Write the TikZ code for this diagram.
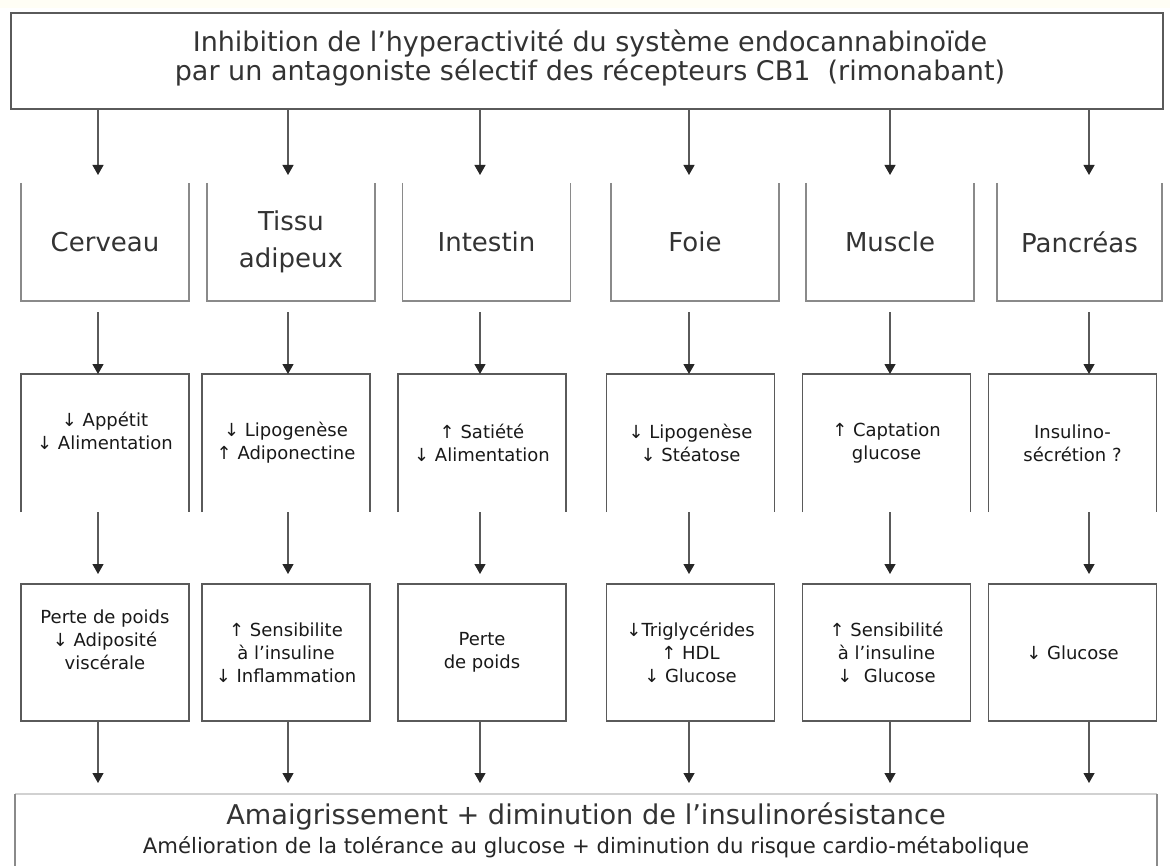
\documentclass[tikz,border=0pt]{standalone}
\usepackage{fontspec}
\setmainfont{DejaVu Sans}
\usetikzlibrary{arrows.meta,calc}
\definecolor{linegray}{HTML}{5A5A5A}
\definecolor{lightgray}{HTML}{8A8A8A}
\definecolor{textgray}{HTML}{333333}
\definecolor{tipcol}{HTML}{262626}
\tikzset{
  box/.style={rectangle, draw=none, inner sep=0pt, outer sep=0pt, align=center},
  topline/.style={draw=linegray, line width=0.8pt},
  orgline/.style={draw=lightgray, line width=0.7pt},
  effline/.style={draw=linegray, line width=0.8pt},
  resline/.style={draw=linegray, line width=0.8pt},
  botline/.style={draw=lightgray, line width=0.7pt},
  arr/.style={draw=linegray, line width=0.6pt, -{Triangle[width=5.5pt,length=5pt,color=tipcol]}},
  toptext/.style={font=\fontsize{13.5}{14.5}\selectfont, text=textgray},
  orgtext/.style={font=\fontsize{13}{18.5}\selectfont, text=textgray},
  smalltext/.style={font=\fontsize{9}{11.5}\selectfont, text=black!90},
  orgbox/.style={box, orgtext, minimum width=84pt, minimum height=59pt},
  effbox/.style={box, smalltext, minimum width=84pt, minimum height=69pt},
  resbox/.style={box, smalltext, minimum width=84pt, minimum height=68.5pt},
}
\begin{document}
\begin{tikzpicture}[x=0.5pt,y=-0.5pt]
\path[use as bounding box, fill=white] (0,0) rectangle (1170,866);
\fill[yellow!4] (0,0) rectangle (1170,8);

% column coordinates
\coordinate (c1) at (98,0);
\coordinate (c2) at (288,0);
\coordinate (c3) at (480,0);
\coordinate (c4) at (689,0);
\coordinate (c5) at (890,0);
\coordinate (c6) at (1089,0);

% top box
\node[box, minimum width=576pt, minimum height=48pt] (top) at (587,61) {};
\draw[topline] (top.north west) rectangle (top.south east);
\node[box, toptext] (toptx) at (590,58) {Inhibition de l’hyperactivité du système endocannabinoïde\\par un antagoniste sélectif des récepteurs CB1\ \ (rimonabant)};

% organ boxes
\node[orgbox] (o1) at (105,242) {Cerveau};
\node[orgbox] (o2) at (291,242) {Tissu\\adipeux};
\node[orgbox] (o3) at (486.5,242) {Intestin};
\node[orgbox] (o4) at (695,242) {Foie};
\node[orgbox] (o5) at (890,242) {Muscle};
\node[orgbox, minimum width=82.5pt] (o6) at (1079.5,242) {Pancréas};
\foreach \n in {o1,o2,o3,o4,o5,o6}
  \draw[orgline] (\n.north west) -- (\n.south west) -- (\n.south east) -- (\n.north east);

% effect boxes
\node[effbox] (e1) at (105,443) {};
\node[box, smalltext] (e1t) at (105,431) {↓ Appétit\\↓ Alimentation};
\node[effbox] (e2) at (286,443) {↓ Lipogenèse\\↑ Adiponectine};
\node[effbox] (e3) at (482,443) {↑ Satiété\\↓ Alimentation};
\node[effbox] (e4) at (690.5,443) {↓ Lipogenèse\\↓ Stéatose};
\node[effbox] (e5) at (886.5,443) {↑ Captation\\glucose};
\node[effbox] (e6) at (1072.5,443) {Insulino-\\sécrétion ?};
\foreach \n in {e1,e2,e3,e4,e5,e6}
  \draw[effline] (\n.south west) -- (\n.north west) -- (\n.north east) -- (\n.south east);

% result boxes
\node[resbox] (r1) at (105,652.5) {};
\node[box, smalltext] (r1t) at (105,640) {Perte de poids\\↓ Adiposité\\viscérale};
\node[resbox] (r2) at (286,652.5) {↑ Sensibilite\\à l’insuline\\↓ Inflammation};
\node[resbox] (r3) at (482,652.5) {Perte\\de poids};
\node[resbox] (r4) at (690.5,652.5) {↓Triglycérides\\↑ HDL\\↓ Glucose};
\node[resbox] (r5) at (886.5,652.5) {↑ Sensibilité\\à l’insuline\\↓\ \ Glucose};
\node[resbox] (r6) at (1072.5,652.5) {↓ Glucose};
\foreach \n in {r1,r2,r3,r4,r5,r6}
  \draw[resline] (\n.north west) rectangle (\n.south east);

% bottom box
\node[box, minimum width=571pt, minimum height=36pt] (bot) at (586,830) {};
\draw[draw=black!18, line width=0.7pt] (bot.north west) -- (bot.north east);
\draw[botline] (bot.north west) -- (bot.south west);
\draw[botline] (bot.north east) -- (bot.south east);
\node[box, font=\fontsize{13.6}{15}\selectfont, text=textgray] (bott1) at (586,816) {Amaigrissement + diminution de l’insulinorésistance};
\node[box, font=\fontsize{10.6}{12}\selectfont, text=black!85] (bott2) at (586,847) {Amélioration de la tolérance au glucose + diminution du risque cardio-métabolique};

% arrows
\foreach \i in {1,...,6} {
  \draw[arr] (top.south -| c\i) -- ($(o\i.north -| c\i)+(0,-8)$);
  \draw[arr] ($(o\i.south -| c\i)+(0,11)$) -- (e\i.north -| c\i);
  \draw[arr] (e\i.south -| c\i) -- ($(r\i.north -| c\i)+(0,-10)$);
  \draw[arr] (r\i.south -| c\i) -- ($(bot.north -| c\i)+(0,-11)$);
}
\end{tikzpicture}
\end{document}
